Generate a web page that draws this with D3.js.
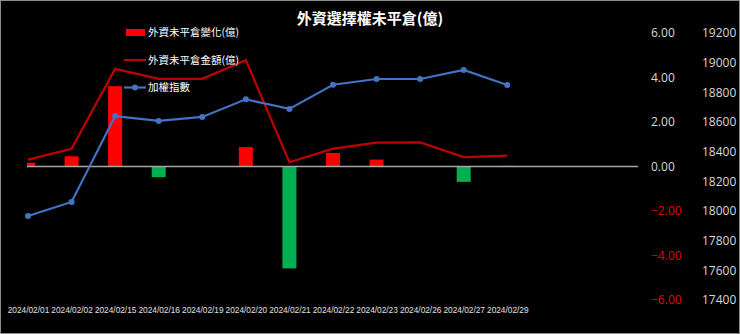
<!DOCTYPE html>
<html><head><meta charset="utf-8">
<script src="https://cdn.jsdelivr.net/npm/d3@7"></script>
<style>html,body{margin:0;padding:0;background:#000;}svg{display:block;}</style>
</head><body>
<script>
const categories = ["2024/02/01","2024/02/02","2024/02/15","2024/02/16","2024/02/19","2024/02/20","2024/02/21","2024/02/22","2024/02/23","2024/02/26","2024/02/27","2024/02/29"];
const changeValues = [0.17, 0.46, 3.61, -0.48, 0, 0.87, -4.58, 0.61, 0.31, 0.02, -0.69, 0.03];
const amountValues = [0.31, 0.80, 4.39, 3.94, 3.94, 4.78, 0.19, 0.80, 1.07, 1.08, 0.42, 0.49];
const indexValues = [17966, 18061, 18640, 18607, 18634, 18753, 18688, 18851, 18890, 18890, 18951, 18849];
const leftTicks = [6, 4, 2, 0, -2, -4, -6];
const rightTicks = [19200, 19000, 18800, 18600, 18400, 18200, 18000, 17800, 17600, 17400];
const seriesNames = ["外資未平倉變化(億)", "外資未平倉金額(億)", "加權指數"];
const title = "外資選擇權未平倉(億)";

const W = 740, H = 334;
const plotLeft = 27, plotRight = 638, plotTop = 33, plotBottom = 300;
const step = (plotRight - 28) / 14;

const svg = d3.select("body").append("svg").attr("width", W).attr("height", H);
svg.append("rect").attr("x", 0.5).attr("y", 0.5).attr("width", W - 1).attr("height", H - 1)
  .attr("fill", "#000").attr("stroke", "#8c8c8c");

const x = d3.scalePoint().domain(categories).range([28, 28 + step * (categories.length - 1)]);
const yL = d3.scaleLinear().domain([-6, 6]).range([plotBottom, plotTop]);
const yR = d3.scaleLinear().domain([17400, 19200]).range([plotBottom, plotTop]);

svg.append("defs").append("clipPath").attr("id", "plotclip")
  .append("rect").attr("x", plotLeft).attr("y", 0).attr("width", plotRight - plotLeft).attr("height", H);

const plot = svg.append("g").attr("clip-path", "url(#plotclip)");
const barW = 14;
plot.selectAll("rect.bar").data(changeValues).enter().append("rect")
  .attr("class", "bar")
  .attr("x", (d, i) => x(categories[i]) - barW / 2)
  .attr("width", barW)
  .attr("y", d => d >= 0 ? yL(d) : yL(0))
  .attr("height", d => Math.abs(yL(d) - yL(0)))
  .attr("fill", d => d >= 0 ? "#ff0000" : "#00b050");

// zero line
svg.append("line").attr("x1", plotLeft).attr("x2", plotRight)
  .attr("y1", yL(0)).attr("y2", yL(0)).attr("stroke", "#a6a6a6").attr("stroke-width", 1.5);

// amount line
const lineL = d3.line().x((d, i) => x(categories[i])).y(d => yL(d));
svg.append("path").datum(amountValues).attr("d", lineL)
  .attr("fill", "none").attr("stroke", "#c00000").attr("stroke-width", 2.2);

// index line
const lineR = d3.line().x((d, i) => x(categories[i])).y(d => yR(d));
svg.append("path").datum(indexValues).attr("d", lineR)
  .attr("fill", "none").attr("stroke", "#4472c4").attr("stroke-width", 2.2);
svg.selectAll("circle.pt").data(indexValues).enter().append("circle")
  .attr("class", "pt").attr("cx", (d, i) => x(categories[i])).attr("cy", d => yR(d))
  .attr("r", 3).attr("fill", "#4472c4");

// left value axis (drawn on right side)
const axL = svg.append("g").attr("transform", `translate(651,0)`)
  .call(d3.axisRight(yL).tickValues(leftTicks).tickSize(0).tickPadding(0).tickFormat(d3.format(".2f")));
axL.select(".domain").remove();
axL.selectAll("text").attr("font-family", "'Open Sans', 'Liberation Sans', sans-serif").attr("font-size", 12)
  .attr("fill", d => d < 0 ? "#e00000" : "#d9d9d9").attr("text-anchor", "start");

const axR = svg.append("g").attr("transform", `translate(702,0)`)
  .call(d3.axisRight(yR).tickValues(rightTicks).tickSize(0).tickPadding(0).tickFormat(d3.format("d")));
axR.select(".domain").remove();
axR.selectAll("text").attr("font-family", "'Open Sans', 'Liberation Sans', sans-serif").attr("font-size", 12)
  .attr("fill", "#d9d9d9").attr("text-anchor", "start");

// x axis labels
const axX = svg.append("g").attr("transform", `translate(0,307)`)
  .call(d3.axisBottom(x).tickSize(0).tickPadding(0));
axX.select(".domain").remove();
axX.selectAll("text").attr("font-family", "'Liberation Sans', Arial, sans-serif").attr("font-size", 8.3)
  .attr("fill", "#e0e0e0");

// title
svg.append("text").attr("x", 370).attr("y", 24).attr("text-anchor", "middle")
  .attr("font-family", "'Noto Sans CJK TC', sans-serif").attr("font-weight", "bold").attr("font-size", 15)
  .attr("fill", "#ffffff").text(title);

// legend
const lg = svg.append("g").attr("font-family", "'Noto Sans CJK TC', sans-serif").attr("font-size", 10.5).attr("fill", "#ffffff");
const ly = [32.5, 60, 87.5];
lg.append("rect").attr("x", 126).attr("y", ly[0] - 3.5).attr("width", 19).attr("height", 7).attr("fill", "#ff0000");
lg.append("line").attr("x1", 124).attr("x2", 146).attr("y1", ly[1]).attr("y2", ly[1]).attr("stroke", "#c00000").attr("stroke-width", 2.2);
lg.append("line").attr("x1", 124).attr("x2", 146).attr("y1", ly[2]).attr("y2", ly[2]).attr("stroke", "#4472c4").attr("stroke-width", 2.2);
lg.append("circle").attr("cx", 135).attr("cy", ly[2]).attr("r", 3).attr("fill", "#4472c4");
seriesNames.forEach((n, i) => {
  lg.append("text").attr("x", 148).attr("y", ly[i]).attr("dy", "0.35em").text(n);
});
</script>
</body></html>
